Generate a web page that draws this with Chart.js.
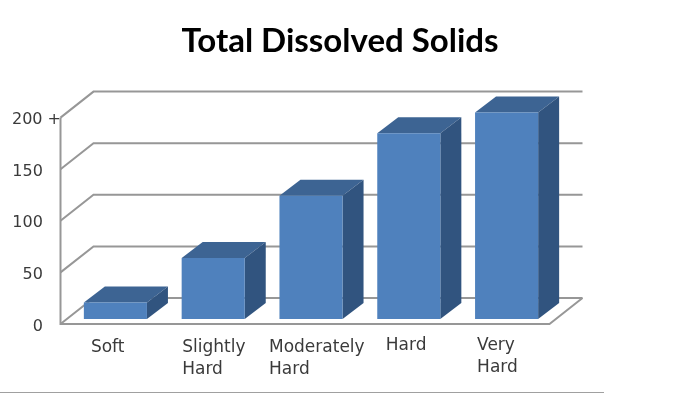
<!DOCTYPE html>
<html>
<head>
<meta charset="utf-8">
<script src="https://cdn.jsdelivr.net/npm/chart.js@4"></script>
<style>
  html, body { margin: 0; padding: 0; background: #fff; }
  #wrap { width: 700px; height: 394px; }
</style>
</head>
<body>
<div id="wrap"><canvas id="myChart" width="700" height="394"></canvas></div>
<script>
// values
var categories = [["Soft"], ["Slightly", "Hard"], ["Moderately", "Hard"], ["Hard"], ["Very", "Hard"]];
var hardness = [16, 59, 119.5, 180, 200];
var tickValues = [0, 50, 100, 150, 200];
var tickLabels = ["0\u2002  ", "50\u2002  ", "100\u2002  ", "150\u2002  ", "200 +"];

// look of the fake 3d box
var depthX = 21, depthY = 16;       // bar depth
var wallX = 33, wallY = 26;         // wall depth
var floorX = 6, floorY = 5;         // bars stand a little behind the front edge
var gridColor = "#979797";
var faceColor = "#4f81bd", topColor = "#3d6493", sideColor = "#31547f";
var textColor = "#3a3a3a";

// left edge of each category label, measured from the bar centre
var labelShift = [-24.5, -31, -42, -23, -29.5];
var labelTop = [347.5, 347.5, 347.5, 346, 346];
var labelLine = 22;

function poly(ctx, color, pts) {
  ctx.fillStyle = color;
  ctx.beginPath();
  ctx.moveTo(pts[0][0], pts[0][1]);
  for (var i = 1; i < pts.length; i++) ctx.lineTo(pts[i][0], pts[i][1]);
  ctx.closePath();
  ctx.fill();
}

var box3d = {
  id: "box3d",
  beforeDatasetsDraw: function (chart) {
    var ctx = chart.ctx, yScale = chart.scales.y, area = chart.chartArea;
    var left = area.left - floorX, right = area.right - floorX;
    ctx.save();
    ctx.strokeStyle = gridColor;
    ctx.lineWidth = 2;
    // back wall lines and the left wall diagonals
    tickValues.forEach(function (v) {
      var y = yScale.getPixelForValue(v) + floorY;
      ctx.beginPath();
      ctx.moveTo(left, y);
      ctx.lineTo(left + wallX, y - wallY);
      ctx.lineTo(right + wallX, y - wallY);
      ctx.stroke();
    });
    // left edge + floor
    var y0 = yScale.getPixelForValue(0) + floorY;
    var yTop = yScale.getPixelForValue(200) + floorY;
    ctx.beginPath();
    ctx.moveTo(left, yTop);
    ctx.lineTo(left, y0);
    ctx.lineTo(right, y0);
    ctx.lineTo(right + wallX, y0 - wallY);
    ctx.stroke();

    // bar sides and tops, the library paints the front on top of them
    chart.getDatasetMeta(0).data.forEach(function (bar) {
      var p = bar.getProps(["x", "y", "base", "width"], true);
      var l = p.x - p.width / 2, r = p.x + p.width / 2;
      poly(ctx, topColor, [[l, p.y], [l + depthX, p.y - depthY], [r + depthX, p.y - depthY], [r, p.y]]);
      poly(ctx, sideColor, [[r, p.y], [r + depthX, p.y - depthY], [r + depthX, p.base - depthY], [r, p.base]]);
    });
    ctx.restore();
  },
  afterDraw: function (chart) {
    var ctx = chart.ctx, xScale = chart.scales.x;
    ctx.save();
    // category labels are left aligned and unevenly placed in the picture
    ctx.font = "17px 'DejaVu Sans'";
    ctx.fillStyle = textColor;
    ctx.textAlign = "left";
    ctx.textBaseline = "middle";
    categories.forEach(function (lines, i) {
      var x = xScale.getPixelForValue(i) + labelShift[i];
      lines.forEach(function (line, j) {
        ctx.fillText(line, x, labelTop[i] + j * labelLine);
      });
    });
    // rule along the bottom of the slide
    ctx.strokeStyle = "#a0a0a0";
    ctx.lineWidth = 1;
    ctx.beginPath();
    ctx.moveTo(0, 392.5);
    ctx.lineTo(604, 392.5);
    ctx.stroke();
    ctx.restore();
  }
};

var ctx = document.getElementById("myChart").getContext("2d");
var chart = new Chart(ctx, {
  type: "bar",
  data: {
    labels: categories,
    datasets: [{
      label: "Total Dissolved Solids",
      data: hardness,
      backgroundColor: faceColor,
      barPercentage: 1,
      categoryPercentage: 0.645,
      clip: false
    }]
  },
  options: {
    responsive: false,
    animation: false,
    layout: { padding: { left: 0, right: 20, top: 0, bottom: 0 } },
    plugins: {
      legend: { display: false },
      tooltip: { enabled: false },
      title: {
        display: true,
        text: "Total Dissolved Solids",
        color: "#000",
        font: { family: "Lato", size: 33, weight: "bold" },
        padding: { top: 22, bottom: 51 }
      }
    },
    scales: {
      x: {
        grid: { display: false },
        border: { display: false },
        ticks: { display: false },
        afterFit: function (scale) { scale.height = 75; }
      },
      y: {
        min: 0,
        max: 200,
        grid: { display: false, drawTicks: false },
        border: { display: false },
        afterBuildTicks: function (scale) {
          scale.ticks = tickValues.map(function (v) { return { value: v }; });
        },
        ticks: {
          color: textColor,
          font: { family: "DejaVu Sans", size: 16 },
          padding: 5.5,
          labelOffset: 7.5,
          callback: function (value) { return tickLabels[tickValues.indexOf(value)]; }
        },
        afterFit: function (scale) { scale.width = 66.5; }
      },
      // empty axis, only holds the white space on the right
      spacer: {
        position: "right",
        grid: { display: false },
        border: { display: false },
        ticks: { display: false },
        afterFit: function (scale) { scale.width = 124.5; }
      }
    }
  },
  plugins: [box3d]
});
</script>
</body>
</html>
